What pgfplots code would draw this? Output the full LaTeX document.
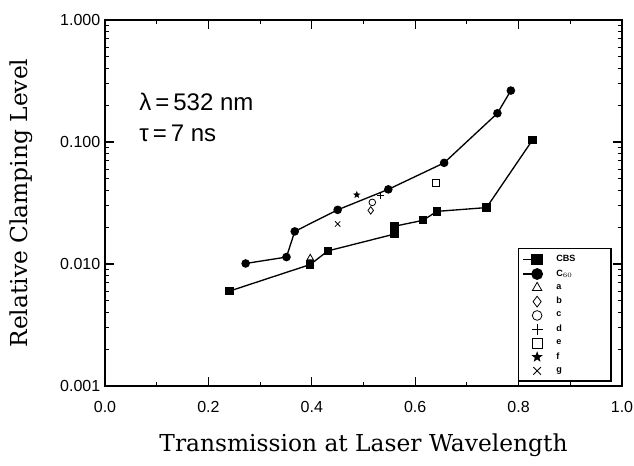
\documentclass[border=0pt]{standalone}
\usepackage{fontspec}
\setmainfont{Liberation Sans}
\newfontfamily\labelfont{DejaVu Serif}
\usepackage{pgfplots}
\pgfplotsset{compat=1.18}

% filled five-point star
\pgfdeclareplotmark{fstar}{%
  \pgfpathmoveto{\pgfpointpolar{90}{\pgfplotmarksize}}%
  \pgfpathlineto{\pgfpointpolar{126}{0.42\pgfplotmarksize}}%
  \pgfpathlineto{\pgfpointpolar{162}{\pgfplotmarksize}}%
  \pgfpathlineto{\pgfpointpolar{198}{0.42\pgfplotmarksize}}%
  \pgfpathlineto{\pgfpointpolar{234}{\pgfplotmarksize}}%
  \pgfpathlineto{\pgfpointpolar{270}{0.42\pgfplotmarksize}}%
  \pgfpathlineto{\pgfpointpolar{306}{\pgfplotmarksize}}%
  \pgfpathlineto{\pgfpointpolar{342}{0.42\pgfplotmarksize}}%
  \pgfpathlineto{\pgfpointpolar{18}{\pgfplotmarksize}}%
  \pgfpathlineto{\pgfpointpolar{54}{0.42\pgfplotmarksize}}%
  \pgfpathclose\pgfusepathqfill}

\newcommand{\legtxt}[1]{\makebox[36pt][l]{#1}}

\begin{document}
\begin{tikzpicture}
\begin{axis}[
  scale only axis,
  width=387.75pt, height=274.5pt,
  xmin=0, xmax=1,
  ymode=log, ymin=0.001, ymax=1,
  xtick={0,0.2,0.4,0.6,0.8,1},
  xticklabels={0.0,0.2,0.4,0.6,0.8,1.0},
  minor x tick num=1,
  ytick={0.001,0.01,0.1,1},
  yticklabels={0.001,0.010,0.100,1.000},
  tick align=inside,
  major tick length=7pt,
  minor tick length=3pt,
  minor x tick style={/pgfplots/major tick length=7pt},
  axis line style={line width=1.1pt},
  tick style={line width=0.8pt, black},
  ticklabel style={font=\fontsize{12}{14}\selectfont},
  xticklabel style={yshift=-8pt},
  xlabel={\labelfont Transmission at Laser Wavelength},
  ylabel={\labelfont Relative Clamping Level},
  label style={font=\fontsize{17.5}{20}\selectfont},
  xlabel style={yshift=-9pt},
  ylabel style={yshift=14pt},
  legend style={at={(0.98,0.012)}, anchor=south east, draw=black,
    line width=0.9pt, font=\fontsize{6.8}{8}\selectfont\bfseries,
    row sep=0.6pt, inner sep=3pt, legend cell align=left},
  legend image code/.code={%
    \draw[mark repeat=2,mark phase=2,#1,mark options={scale=1.45}] plot coordinates {(0cm,0cm) (0.36cm,0cm)};
    \path (0.78cm,0cm);},
]
% CBS
\addplot[black, line width=1pt, mark=square*, mark size=2.6pt] coordinates {
(0.241,0.0060) (0.397,0.0099) (0.431,0.0128) (0.560,0.0176) (0.560,0.0204)
(0.615,0.0228) (0.642,0.0270) (0.738,0.0290) (0.827,0.104)
};
% C60
\addplot[black, line width=1pt, mark=*, mark size=2.7pt] coordinates {
(0.272,0.0101) (0.351,0.0114) (0.367,0.0185) (0.450,0.0278) (0.548,0.0409)
(0.656,0.0675) (0.759,0.172) (0.785,0.264)
};
\addplot[only marks, black, mark=triangle, mark size=2.8pt, line width=0.6pt] coordinates {(0.397,0.0112)};
\addplot[only marks, black, mark=diamond, mark size=2.8pt, line width=0.6pt] coordinates {(0.514,0.0275)};
\addplot[only marks, black, mark=o, mark size=2.5pt, line width=0.6pt] coordinates {(0.517,0.032)};
\addplot[only marks, black, mark=+, mark size=2.8pt, line width=0.6pt] coordinates {(0.533,0.0364)};
\addplot[only marks, black, mark=square, mark size=2.5pt, line width=0.6pt] coordinates {(0.640,0.0464)};
\addplot[only marks, black, mark=fstar, mark size=3pt] coordinates {(0.487,0.0369)};
\addplot[only marks, black, mark=x, mark size=2.8pt, line width=0.6pt] coordinates {(0.450,0.0213)};
\legend{\legtxt{CBS},\legtxt{C$_{60}$},\legtxt{a},\legtxt{b},\legtxt{c},\legtxt{d},\legtxt{e},\legtxt{f},\legtxt{g}}
\node[anchor=west, font=\fontsize{18}{20}\selectfont, inner sep=0pt] at (rel axis cs:0.066,0.776) {λ\,=\,532 nm};
\node[anchor=west, font=\fontsize{18}{20}\selectfont, inner sep=0pt] at (rel axis cs:0.066,0.691) {τ\,=\,7 ns};
\end{axis}
\pgfresetboundingbox
\path[use as bounding box] (current axis.south west) ++(-78.75pt,-60pt) rectangle ++(475.5pt,349.5pt);
\end{tikzpicture}
\end{document}
